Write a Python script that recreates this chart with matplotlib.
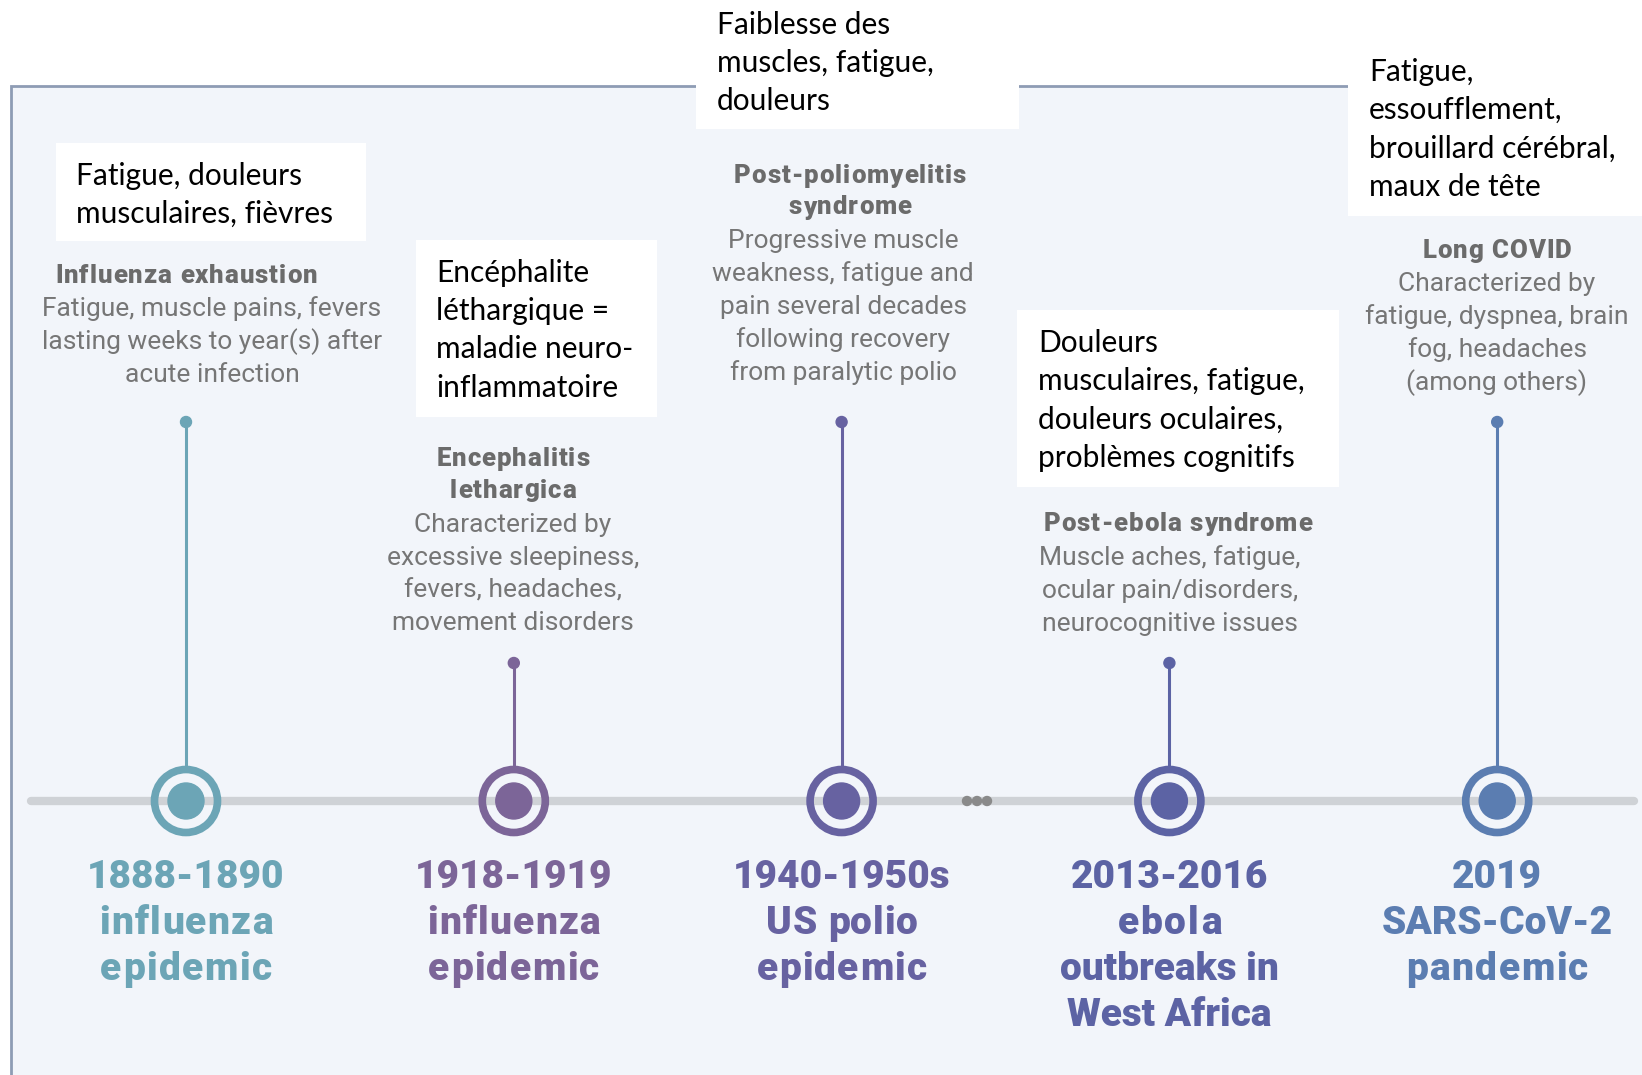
import matplotlib.pyplot as plt
from matplotlib.patches import Rectangle, Circle

# Events (left to right)
periods = ["1888-1890\ninfluenza\nepidemic",
           "1918-1919\ninfluenza\nepidemic",
           "1940-1950s\nUS polio\nepidemic",
           "2013-2016\nebola\noutbreaks in\nWest Africa",
           "2019\nSARS-CoV-2\npandemic"]
colors = ["#6ca5b6", "#7c6598", "#6762a1", "#5c63a4", "#5b7db1"]
syndromes = ["Influenza exhaustion",
             "Encephalitis\nlethargica",
             "Post-poliomyelitis\nsyndrome",
             "Post-ebola syndrome",
             "Long COVID"]
details = ["Fatigue, muscle pains, fevers\nlasting weeks to year(s) after\nacute infection",
           "Characterized by\nexcessive sleepiness,\nfevers, headaches,\nmovement disorders",
           "Progressive muscle\nweakness, fatigue and\npain several decades\nfollowing recovery\nfrom paralytic polio",
           "Muscle aches, fatigue,\nocular pain/disorders,\nneurocognitive issues",
           "Characterized by\nfatigue, dyspnea, brain\nfog, headaches\n(among others)"]
french = ["Fatigue, douleurs\nmusculaires, fièvres",
          "Encéphalite\nléthargique =\nmaladie neuro-\ninflammatoire",
          "Faiblesse des\nmuscles, fatigue,\ndouleurs",
          "Douleurs\nmusculaires, fatigue,\ndouleurs oculaires,\nproblèmes cognitifs",
          "Fatigue,\nessoufflement,\nbrouillard cérébral,\nmaux de tête"]

W, H = 1642, 1075
fig = plt.figure(figsize=(W / 100, H / 100), dpi=100)
ax = fig.add_axes([0, 0, 1, 1])
ax.set_xlim(0, W)
ax.set_ylim(H, 0)
ax.axis("off")
renderer = fig.canvas.get_renderer()

bg = "#f2f5fa"
gray_bold = "#6b6b6b"
gray_txt = "#767676"


def text_w(s, **kw):
    t = ax.text(0, 0, s, **kw)
    w = t.get_window_extent(renderer).width
    t.remove()
    return w


def tracked(x, y, s, track, **kw):
    # centred text with extra letter spacing (px)
    if track == 0:
        ax.text(x, y, s, ha="center", va="center", **kw)
        return
    base = text_w("xx", **kw)
    widths = [text_w("x" + ch + "x", **kw) - base for ch in s]
    total = sum(widths) + track * (len(s) - 1)
    cx = x - total / 2
    for ch, w in zip(s, widths):
        ax.text(cx, y, ch, ha="left", va="center", **kw)
        cx += w + track


# panel
ax.add_patch(Rectangle((11, 86), W, H, facecolor=bg, edgecolor="#8e9cb4", lw=2, zorder=0))

# main timeline
line_y = 801
ax.plot([31, 1634], [line_y, line_y], color="#cfd2d6", lw=6, solid_capstyle="round", zorder=1)
for dx in (-10, 0, 10):
    ax.add_patch(Circle((977 + dx, line_y), 4.5, color="#8a8a8a", zorder=2))

x0, step = 186, 327.8
stem_top = [422, 663]

# extra letter spacing for each line of the period labels
period_track = [[0, 1.2, 1.5], [0, 1.2, 1.5], [0, 0.7, 1.3], [0, 2.0, 0, 0], [0, 0, 1.5]]

# layout per event: (syn_center_x, syn_y, detail_center_x, detail_y)
text_pos = [(186, 276, 212, 309),
            (513, 459, 513, 525),
            (850, 176, 843, 241),
            (1178, 524, 1170, 558),
            (1497, 251, 1497, 284)]
# french boxes: (left, top, width, height, text_x, text_y)
boxes = [(56, 143, 310, 98, 76, 176),
         (416, 240, 241, 177, 436, 273),
         (696, -2, 323, 131, 717, 25),
         (1017, 310, 322, 177, 1038, 343),
         (1348, -2, 296, 218, 1369, 72)]

for i in range(len(periods)):
    x = x0 + i * step
    c = colors[i]
    top = stem_top[i % 2]
    ax.plot([x, x], [top, line_y - 36], color=c, lw=2.2, zorder=2)
    ax.add_patch(Circle((x, top), 5.5, color=c, zorder=3))
    ax.add_patch(Circle((x, line_y), 31.5, facecolor="none", edgecolor=c, lw=5.5, zorder=3))
    ax.add_patch(Circle((x, line_y), 18, color=c, zorder=3))

    for k, ln in enumerate(periods[i].split("\n")):
        tracked(x, 877 + k * 46, ln, period_track[i][k], fontsize=28,
                fontweight="black", family="Roboto", color=c, zorder=4)

    sx, sy, dxc, dy = text_pos[i]
    for k, ln in enumerate(syndromes[i].split("\n")):
        tracked(sx, sy + k * 31.5, ln, 1.0, fontsize=18.5,
                fontweight="black", family="Roboto", color=gray_bold, zorder=4)
    for k, ln in enumerate(details[i].split("\n")):
        ax.text(dxc, dy + k * 32.8, ln, ha="center", va="center", fontsize=19,
                family="Roboto", color=gray_txt, zorder=4)

    bl, bt, bw, bh, tx, ty = boxes[i]
    ax.add_patch(Rectangle((bl, bt), bw, bh, facecolor="white", edgecolor="none", zorder=5))
    for k, ln in enumerate(french[i].split("\n")):
        ax.text(tx, ty + k * 38.2, ln, ha="left", va="center", fontsize=21.5,
                family="Lato", color="black", zorder=6)

fig.savefig("out.png", dpi=100, facecolor="white")
